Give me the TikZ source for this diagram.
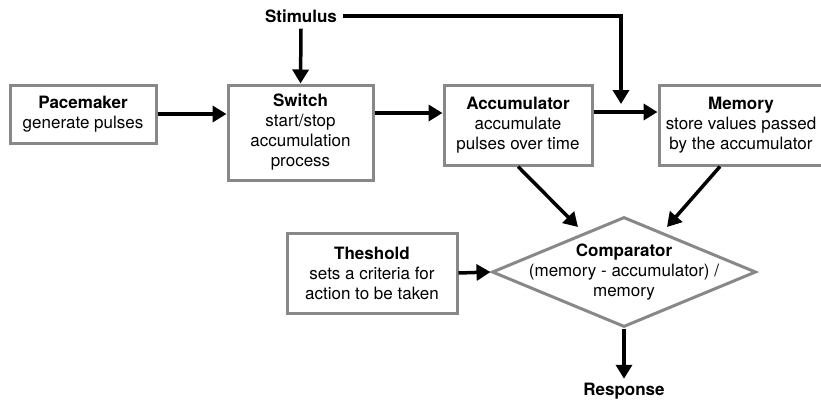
\documentclass[tikz,border=0pt]{standalone}
\usepackage{fontspec}
\setmainfont{TeX Gyre Heros}
\usetikzlibrary{arrows.meta,shapes.geometric}
\definecolor{boxgray}{RGB}{136,136,136}
\begin{document}
\begin{tikzpicture}[x=1pt,y=-1pt,
  txt/.style={font=\fontsize{17}{20}\selectfont, align=center, inner sep=0pt},
  procbox/.style={txt, draw=boxgray, line width=3pt, fill=white},
  decision/.style={draw=boxgray, line width=3pt, shape=diamond, inner sep=0pt},
  arr/.style={line width=3.5pt, -{Triangle[length=14pt,width=16pt]}}
]
\useasboundingbox (0,0) rectangle (821,400);

% processing stages
\node[procbox, minimum width=146pt, minimum height=58pt] (pace) at (83,114)
  {\textbf{Pacemaker}\\generate pulses};
\node[procbox, minimum width=145pt, minimum height=95pt] (switch) at (300.5,132.5)
  {\textbf{Switch}\\start/stop\\accumulation\\process};
\node[procbox, minimum width=148pt, minimum height=80pt] (acc) at (518,125)
  {\textbf{Accumulator}\\accumulate\\pulses over time};
\node[procbox, minimum width=164pt, minimum height=80pt] (mem) at (741,125)
  {\textbf{Memory}\\store values passed\\by the accumulator};
\node[procbox, minimum width=170pt, minimum height=80pt] (thr) at (372,273)
  {\textbf{Theshold}\\sets a criteria for\\action to be taken};

% comparison stage
\node[decision, minimum width=264pt, minimum height=110pt] (comp) at (624,272) {};
\node[txt] (comptext) at (comp.center)
  {\textbf{Comparator}\\(memory - accumulator) /\\memory};

% input and output labels
\node[txt, font=\fontsize{17}{20}\selectfont\bfseries] (stim) at (301,16) {Stimulus};
\node[txt, font=\fontsize{17}{20}\selectfont\bfseries] (resp) at (624,391) {Response};

% free ends of connectors
\coordinate (tap) at (621,104);
\coordinate (corner) at (621,16);
\coordinate (accin) at (578,227);
\coordinate (memin) at (667,227);

% connectors
\draw[arr] (pace.east) -- (pace.east -| switch.west);
\draw[arr] (switch.east |- 0,113) -- (acc.west |- 0,113);
\draw[arr] (acc.east |- 0,112) -- (mem.west |- 0,112);
\draw[arr] ([yshift=-6pt]stim.south) -- (switch.north);
\draw[arr] ([xshift=6pt]stim.east) -- (corner) -- (tap);
\draw[arr] (acc.south) -- (accin);
\draw[arr] ([xshift=-21pt]mem.south) -- (memin);
\draw[arr] (thr.east) -- (comp.west);
\draw[arr] (comp.south) -- ([yshift=4pt]resp.north);
\end{tikzpicture}
\end{document}
